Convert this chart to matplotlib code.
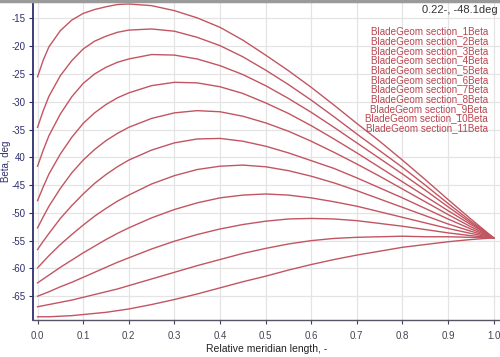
import matplotlib
matplotlib.use('Agg')
import matplotlib.pyplot as plt
from matplotlib.lines import Line2D

# relative meridian length (read positions)
x = [0.0, 0.0125, 0.025, 0.05, 0.075, 0.1, 0.125, 0.15, 0.175, 0.2, 0.25, 0.3, 0.35, 0.4,
     0.45, 0.5, 0.55, 0.6, 0.65, 0.7, 0.75, 0.8, 0.85, 0.9, 0.95, 1.0]

# beta angle for each blade section, deg
sec1 = [-25.5, -22.5, -20.1, -17.2, -15.3, -14.1, -13.4, -12.9, -12.5, -12.4, -12.7, -13.6, -14.9, -16.6,
        -18.9, -21.6, -24.4, -27.4, -30.6, -33.9, -37.1, -40.5, -44.0, -47.6, -51.1, -54.5]
sec2 = [-34.6, -31.6, -29.0, -25.3, -22.6, -20.5, -19.1, -18.2, -17.5, -17.1, -16.9, -17.3, -18.4, -19.9,
        -21.9, -24.3, -26.9, -29.7, -32.7, -35.8, -38.8, -41.8, -45.0, -48.3, -51.5, -54.5]
sec3 = [-41.6, -38.7, -36.1, -32.2, -29.1, -26.7, -25.0, -23.8, -22.9, -22.3, -21.5, -21.6, -22.3, -23.5,
        -25.1, -27.1, -29.4, -31.9, -34.6, -37.4, -40.2, -43.0, -45.9, -48.9, -51.8, -54.5]
sec4 = [-47.8, -45.3, -43.0, -39.4, -36.4, -33.9, -32.0, -30.5, -29.3, -28.4, -27.1, -26.5, -26.6, -27.3,
        -28.5, -30.2, -32.1, -34.3, -36.7, -39.2, -41.8, -44.4, -47.0, -49.6, -52.1, -54.5]
sec5 = [-52.7, -50.7, -48.8, -45.6, -42.8, -40.5, -38.6, -37.0, -35.7, -34.6, -33.0, -32.0, -31.6, -31.8,
        -32.6, -33.8, -35.3, -37.1, -39.1, -41.2, -43.4, -45.7, -48.0, -50.3, -52.5, -54.5]
sec6 = [-56.6, -55.1, -53.7, -51.0, -48.7, -46.6, -44.7, -43.1, -41.7, -40.5, -38.7, -37.4, -36.7, -36.6,
        -37.1, -38.0, -39.2, -40.6, -42.0, -43.7, -45.5, -47.3, -49.2, -51.1, -52.9, -54.5]
sec7 = [-59.9, -58.8, -57.7, -55.7, -53.9, -52.2, -50.6, -49.2, -47.9, -46.8, -44.8, -43.3, -42.2, -41.6,
        -41.4, -41.7, -42.4, -43.4, -44.6, -46.0, -47.5, -49.0, -50.5, -52.0, -53.3, -54.5]
sec8 = [-62.6, -61.9, -61.2, -59.8, -58.5, -57.2, -56.0, -54.8, -53.7, -52.7, -50.9, -49.4, -48.2, -47.3,
        -46.8, -46.6, -46.8, -47.3, -48.0, -48.8, -49.8, -50.8, -51.8, -52.8, -53.7, -54.5]
sec9 = [-65.0, -64.6, -64.2, -63.3, -62.5, -61.6, -60.7, -59.8, -58.9, -58.1, -56.5, -55.1, -53.9, -52.9,
        -52.1, -51.5, -51.1, -51.0, -51.1, -51.4, -51.9, -52.4, -53.0, -53.6, -54.1, -54.5]
sec10 = [-66.9, -66.7, -66.5, -66.1, -65.7, -65.2, -64.7, -64.2, -63.7, -63.1, -61.9, -60.7, -59.5, -58.4,
         -57.3, -56.4, -55.6, -55.0, -54.6, -54.4, -54.3, -54.2, -54.3, -54.3, -54.4, -54.5]
sec11 = [-68.7, -68.7, -68.7, -68.6, -68.5, -68.3, -68.1, -67.9, -67.6, -67.3, -66.5, -65.6, -64.6, -63.5,
         -62.4, -61.4, -60.3, -59.3, -58.4, -57.6, -56.9, -56.2, -55.7, -55.2, -54.8, -54.5]

sections = [sec1, sec2, sec3, sec4, sec5, sec6, sec7, sec8, sec9, sec10, sec11]
names = ['BladeGeom section_%dBeta' % (i + 1) for i in range(11)]

xticks = [0.0, 0.1, 0.2, 0.3, 0.4, 0.5, 0.6, 0.7, 0.8, 0.9, 1.0]
yticks = [-65, -60, -55, -50, -45, -40, -35, -30, -25, -20, -15]
ytick_labels = ['-65', '-60', '-55', '-50', '-45', '40', '-35', '-30', '-25', '-20', '-15']

plt.rcParams['font.family'] = ['Liberation Sans', 'DejaVu Sans']

curve_color = '#c25562'
navy = '#2e2e6e'

fig = plt.figure(figsize=(5, 3.57), dpi=100)
ax = fig.add_axes([0.066, 0.104, 0.934, 0.89])

for s in sections:
    ax.plot(x, s, color=curve_color, lw=1.0)

ax.set_xlim(-0.01, 1.014)
ax.set_ylim(-69.26, -12.07)
ax.set_xticks(xticks)
ax.set_xticklabels(['%.1f' % v for v in xticks])
ax.set_yticks(yticks)
ax.set_yticklabels(ytick_labels)

ax.grid(True, color='#e4e4e4', lw=0.9)
ax.set_axisbelow(True)
for side in ['top', 'right']:
    ax.spines[side].set_visible(False)
ax.spines['left'].set_color(navy)
ax.spines['left'].set_linewidth(1.3)
ax.spines['bottom'].set_color('#555566')
ax.spines['bottom'].set_linewidth(1.0)
ax.tick_params(axis='y', colors=navy, labelsize=7, length=3, width=0.8, pad=2)
ax.tick_params(axis='x', colors='#444455', labelsize=7, length=3, width=0.8, pad=5)

ax.set_xlabel('Relative meridian length, -', fontsize=7.5, color='#222222', labelpad=2)
ax.set_ylabel('Beta, deg', fontsize=7, color=navy, labelpad=1)

# section names, stacked at top right
for i, name in enumerate(names):
    ax.text(0.974, 0.908 - i * 0.0305, name, transform=ax.transAxes,
            ha='right', va='center', fontsize=7.1, color='#b8444e')

ax.text(0.995, 0.975, '0.22-, -48.1deg', transform=ax.transAxes,
        ha='right', va='center', fontsize=8, color='#333333')

# grey frame line along the top
fig.add_artist(Line2D([0, 1], [0.997, 0.997], transform=fig.transFigure,
                      color='#9a9a9a', lw=2.5))

fig.savefig('out.png', dpi=100)
